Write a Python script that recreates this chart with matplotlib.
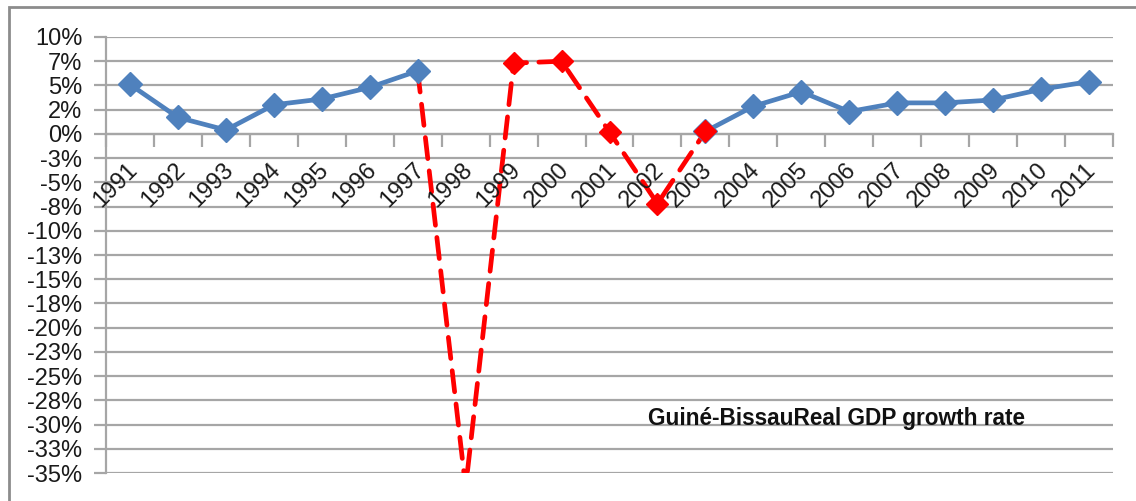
import numpy as np
import matplotlib
matplotlib.use("Agg")
import matplotlib.pyplot as plt
from matplotlib.patches import Rectangle
from matplotlib.transforms import offset_copy

years = ["1991", "1992", "1993", "1994", "1995", "1996", "1997", "1998", "1999", "2000",
         "2001", "2002", "2003", "2004", "2005", "2006", "2007", "2008", "2009", "2010", "2011"]
# Observed growth (solid blue) – gap during the conflict years
growth_blue = [5.1, 1.7, 0.4, 3.0, 3.6, 4.8, 6.5, np.nan, np.nan, np.nan,
               np.nan, np.nan, 0.25, 2.85, 4.35, 2.3, 3.2, 3.2, 3.5, 4.6, 5.4]
# Conflict period (dashed red)
growth_red = [np.nan, np.nan, np.nan, np.nan, np.nan, np.nan, 6.5, -36.5, 7.3, 7.5,
              0.2, -7.2, 0.25, np.nan, np.nan, np.nan, np.nan, np.nan, np.nan, np.nan, np.nan]
red_marker_years = ["1999", "2000", "2001", "2002", "2003"]
ytick_values = [10, 7.5, 5, 2.5, 0, -2.5, -5, -7.5, -10, -12.5, -15, -17.5, -20,
                -22.5, -25, -27.5, -30, -32.5, -35]
ytick_labels = ["10%", "7%", "5%", "2%", "0%", "-3%", "-5%", "-8%", "-10%", "-13%", "-15%",
                "-18%", "-20%", "-23%", "-25%", "-28%", "-30%", "-33%", "-35%"]
title = "Guiné-BissauReal GDP growth rate"

W, H = 1136, 501
fig = plt.figure(figsize=(W / 100, H / 100), dpi=100)
plt.rcParams['font.family'] = ['Liberation Sans', 'DejaVu Sans']

# outer chart frame
fig.patches.append(Rectangle((9 / W, -0.1), 1.2, 1 - 7 / H + 0.1, transform=fig.transFigure,
                             fill=False, edgecolor="#8c8c8c", linewidth=2.0, zorder=0))

left, right, top, bottom = 106, 1113, 37, 473
ax = fig.add_axes([left / W, 1 - bottom / H, (right - left) / W, (bottom - top) / H])

x = np.arange(len(years))
grid_c = "#a6a6a6"
txt_c = "#1a1a1a"
fs = 17

ax.set_xlim(-0.5, len(years) - 0.5)
ax.set_ylim(-35, 10)
ax.set_yticks(ytick_values)
ax.set_yticklabels(ytick_labels, fontsize=fs, color=txt_c)
ax.yaxis.grid(True, color=grid_c, linewidth=1.6, zorder=0)
ax.set_axisbelow(True)
ax.tick_params(axis='y', length=9, width=1.6, color=grid_c, pad=8)

for s in ["top", "right"]:
    ax.spines[s].set_visible(False)
ax.spines["left"].set_color(grid_c)
ax.spines["left"].set_linewidth(1.6)
ax.spines["bottom"].set_position(("data", 0))
ax.spines["bottom"].set_color(grid_c)
ax.spines["bottom"].set_linewidth(1.6)

ax.set_xticks([])
ax.set_xticks(np.arange(-0.5, len(years)), minor=True)
ax.tick_params(axis='x', which='minor', length=9, width=1.6, color=grid_c, labelbottom=False)

# lines
ax.plot(x, growth_red, color="#ff0000", linewidth=3.4, linestyle=(0, (4.5, 2.6)),
        dash_capstyle="round", zorder=3, clip_on=True)
ax.plot(x, growth_blue, color="#4f81bd", linewidth=3.4, marker="D", markersize=12.5,
        zorder=4, clip_on=False)
red_idx = [years.index(y) for y in red_marker_years]
ax.plot(x[red_idx], [growth_red[i] for i in red_idx], linestyle="none", marker="D",
        markersize=11, color="#ff0000", zorder=5)

# category labels
trans = offset_copy(ax.transData, fig=fig, x=-4, y=-25, units='dots')
for i, lab in enumerate(years):
    ax.text(i, 0, lab, transform=trans, rotation=45, rotation_mode='anchor',
            ha='right', va='top', fontsize=fs, color=txt_c, clip_on=False)

fig.text(836 / W, 1 - 419 / H, title, ha='center', va='center', fontsize=16.3,
         fontweight='bold', color="#111111")

fig.savefig("out.png", dpi=100)
